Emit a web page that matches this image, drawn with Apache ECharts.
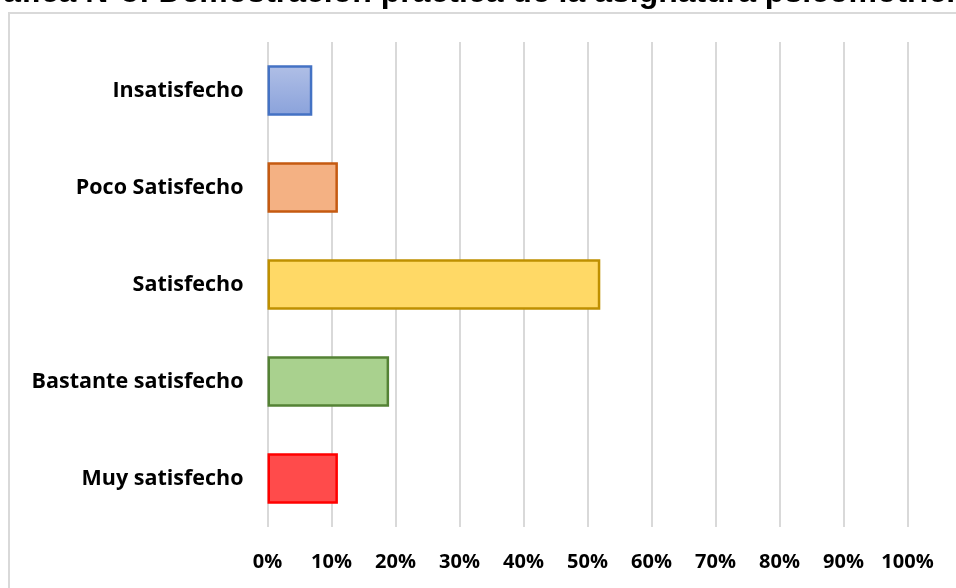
<!DOCTYPE html>
<html>
<head>
<meta charset="utf-8">
<script src="https://cdn.jsdelivr.net/npm/echarts@6/dist/echarts.min.js"></script>
<style>
html,body{margin:0;padding:0;background:#fff;}
#chart{width:956px;height:588px;}
</style>
</head>
<body>
<div id="chart"></div>
<script>
const titleText = 'Gráfica N°5: Demostración práctica de la asignatura psicomotricidad';
const categories = ['Insatisfecho', 'Poco Satisfecho', 'Satisfecho', 'Bastante satisfecho', 'Muy satisfecho'];
const values = [7, 11, 52, 19, 11];
const tickValues = [0, 10, 20, 30, 40, 50, 60, 70, 80, 90, 100];

const fillColors = [
  {type:'linear', x:0, y:0, x2:0, y2:1, colorStops:[{offset:0,color:'#b0bfe6'},{offset:1,color:'#8aa2db'}]},
  '#f4b183', '#ffd966', '#a9d18e', '#ff4b4b'
];
const borderColors = ['#4472c4', '#c55a11', '#bf9000', '#548235', '#ff0000'];

const chart = echarts.init(document.getElementById('chart'));
chart.setOption({
  backgroundColor: '#ffffff',
  animation: false,
  graphic: [
    {type:'rect', shape:{x:9, y:13, width:1000, height:620}, style:{fill:'none', stroke:'#d9d9d9', lineWidth:2}, z:0},
    {type:'text', left:-34, top:-23, style:{text:titleText, font:'bold 32px "Liberation Sans", Arial, sans-serif', fill:'#000'}, z:10}
  ],
  grid: {left: 267.5, right: 48.5, top: 42, bottom: 61, containLabel: false},
  xAxis: {
    type: 'value', min: 0, max: 100, interval: 10,
    axisLine: {show:false}, axisTick: {show:false},
    splitLine: {show:true, lineStyle:{color:'#d9d9d9', width:2}},
    axisLabel: {
      formatter: function(v){ return tickValues.indexOf(v) >= 0 ? v + '%' : ''; },
      color:'#000', fontFamily:'"Open Sans", sans-serif', fontWeight:'bold', fontSize:20, margin:25
    }
  },
  yAxis: {
    type: 'category', data: categories, inverse: true,
    axisLine: {show:false}, axisTick: {show:false},
    axisLabel: {color:'#000', fontFamily:'"Open Sans", sans-serif', fontWeight:'bold', fontSize:21.5, margin:24}
  },
  series: [{
    type: 'bar',
    barCategoryGap: '48%',
    data: values.map(function(v, i){
      return {value: v, itemStyle: {color: fillColors[i], borderColor: borderColors[i], borderWidth: 2.5}};
    })
  }]
});
</script>
</body>
</html>
